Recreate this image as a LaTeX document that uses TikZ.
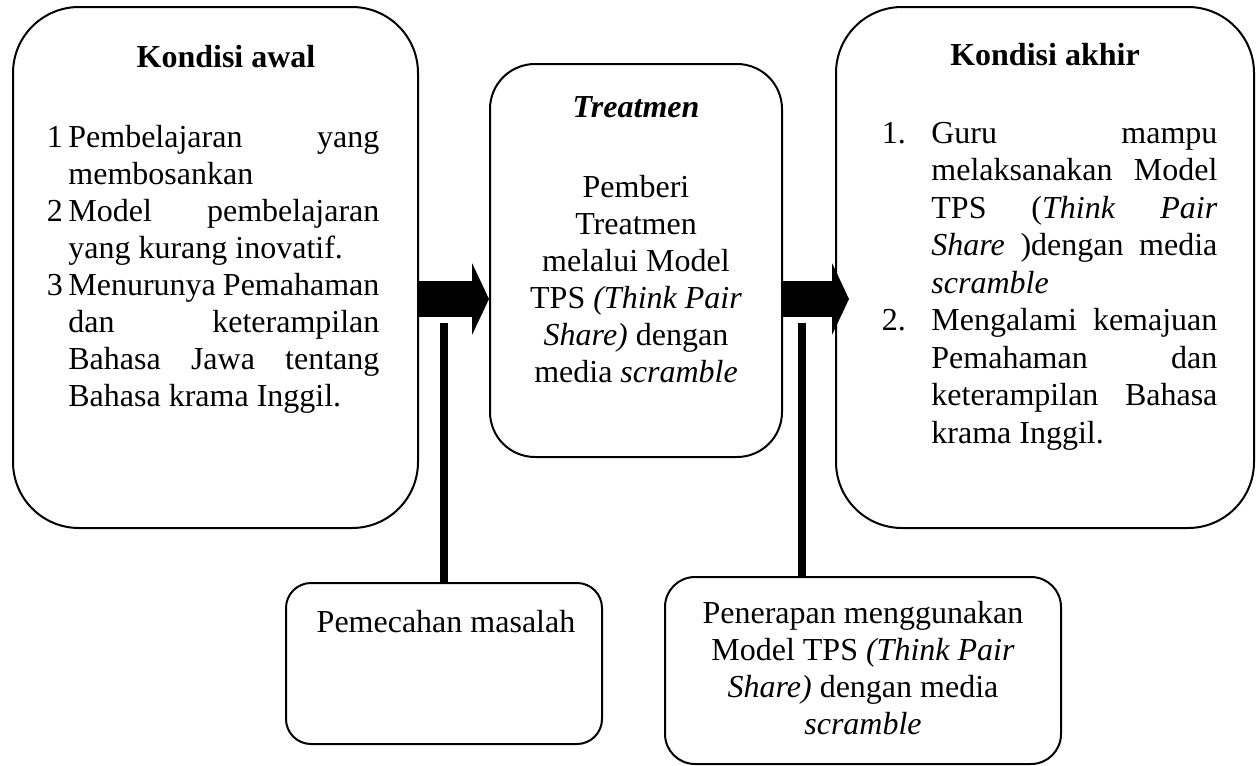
\documentclass[tikz,border=0pt]{standalone}
\usepackage{fontspec}
\setmainfont{Liberation Serif}
\usepackage{tikz}
\usetikzlibrary{arrows.meta,positioning,calc}

\newlength{\numw}
\newlength{\bodyw}
\newcommand{\jline}[2]{\makebox[\numw][l]{#1}\makebox[\bodyw][s]{#2}}
\newcommand{\eline}[2]{\makebox[\numw][l]{#1}\makebox[\bodyw][l]{#2}}

\begin{document}
\begin{tikzpicture}[x=0.5pt, y=-0.5pt,
    cbox/.style={rectangle, draw, line width=1pt, inner sep=0pt},
    txt/.style={inner sep=0pt, font=\fontsize{16}{18.5}\selectfont},
    barrow/.style={line width=18pt, -{Triangle[length=8.5pt, width=36pt, line width=0pt]}},
    stem/.style={line width=4pt}]

    \useasboundingbox (0,0) rectangle (1259,766);

    \node[cbox, minimum width=202.5pt, minimum height=260.5pt, rounded corners=33pt] (awal) at (215.5,267.5) {};
    \node[cbox, minimum width=146pt, minimum height=196.5pt, rounded corners=22.5pt] (treat) at (636,260.5) {};
    \node[cbox, minimum width=209pt, minimum height=260.5pt, rounded corners=33pt] (akhir) at (1045,267.5) {};
    \node[cbox, minimum width=158pt, minimum height=80.5pt, rounded corners=12.5pt] (solve) at (444,663.5) {};
    \node[cbox, minimum width=198pt, minimum height=93.5pt, rounded corners=15pt] (apply) at (863,670.5) {};

    \node[txt, anchor=base] (awalH) at (226,67) {\textbf{Kondisi awal}};
    \node[txt, anchor=base west] (awalL) at (46.5,147) {\setlength{\numw}{10.75pt}\setlength{\bodyw}{155.5pt}%
        \parbox[t]{166.25pt}{%
        \jline{1}{Pembelajaran yang}\\
        \eline{}{membosankan}\\
        \jline{2}{Model pembelajaran}\\
        \eline{}{yang kurang inovatif.}\\
        \jline{3}{Menurunya Pemahaman}\\
        \jline{}{dan keterampilan}\\
        \jline{}{Bahasa Jawa tentang}\\
        \eline{}{Bahasa krama Inggil.}}};

    \node[txt, anchor=base] (treatH) at (636,117) {\textbf{\textit{Treatmen}}};
    \node[txt, anchor=base] (treatB) at (636,197) {\parbox[t]{140pt}{\centering
        Pemberi\\ Treatmen\\ melalui Model\\ TPS \textit{(Think Pair}\\ \textit{Share)} dengan\\ media \textit{scramble}}};

    \node[txt, anchor=base] (akhirH) at (1045,65) {\textbf{Kondisi akhir}};
    \node[txt, anchor=base west, font=\fontsize{16}{18.75}\selectfont] (akhirL) at (881.5,143) {\setlength{\numw}{24.75pt}\setlength{\bodyw}{143pt}%
        \parbox[t]{167.75pt}{%
        \jline{1.}{Guru mampu}\\
        \jline{}{melaksanakan Model}\\
        \jline{}{TPS (\textit{Think} \textit{Pair}}\\
        \jline{}{\textit{Share} )dengan media}\\
        \eline{}{\textit{scramble}}\\
        \jline{2.}{Mengalami kemajuan}\\
        \jline{}{Pemahaman dan}\\
        \jline{}{keterampilan Bahasa}\\
        \eline{}{krama Inggil.}}};

    \node[txt, anchor=base] (solveT) at (446,632) {Pemecahan masalah};
    \node[txt, anchor=base] (applyT) at (863,623) {\parbox[t]{190pt}{\centering
        Penerapan menggunakan\\ Model TPS \textit{(Think Pair}\\ \textit{Share)} dengan media\\ \textit{scramble}}};

    \coordinate (ay) at (0,299);
    \coordinate (s1) at (444,323);
    \coordinate (s2) at (802,323);

    \draw[barrow] (awal.east |- ay) -- (treat.west |- ay);
    \draw[barrow] (treat.east |- ay) -- ($(akhir.west |- ay)+(14,0)$);
    \draw[stem] (s1) -- (s1 |- solve.north);
    \draw[stem] (s2) -- (s2 |- apply.north);

\end{tikzpicture}
\end{document}
